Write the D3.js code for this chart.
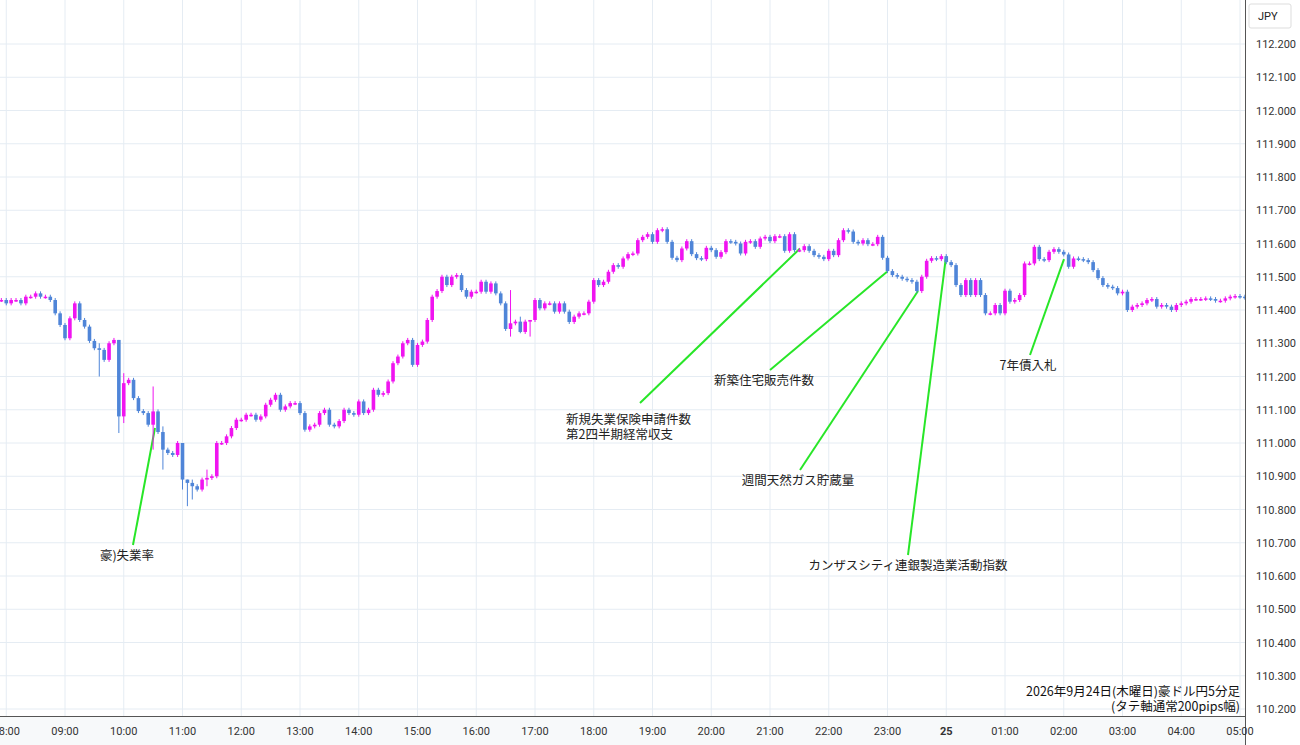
<!DOCTYPE html>
<html><head><meta charset="utf-8">
<script src="https://cdn.jsdelivr.net/npm/d3@7"></script>
<style>body{margin:0;background:#fff;font-family:"Noto Sans CJK JP","Noto Sans",sans-serif}</style>
</head><body><div id="chart"></div>
<script>
// 5分足の終値 (07:55 から)
const closes = [
  111.43,111.42,111.43,111.43,111.42,111.44,111.44,111.45,111.44,111.44,111.43,
  111.39,111.355,111.315,111.375,111.42,111.37,111.35,111.307,111.285,111.28,111.25,111.30,111.31,
  111.08,111.18,111.19,111.135,111.096,111.09,111.055,111.095,111.033,110.98,110.97,110.964,111.0,
  110.89,110.88,110.87,110.86,110.89,110.895,110.9,111.0,111.0,111.02,111.045,111.07,111.07,
  111.085,111.085,111.07,111.08,111.115,111.13,111.145,111.10,111.11,111.12,111.12,
  111.09,111.04,111.05,111.055,111.09,111.10,111.055,111.05,111.066,111.10,111.09,111.085,
  111.125,111.09,111.10,111.16,111.145,111.15,111.185,111.24,111.26,111.30,111.31,111.235,
  111.295,111.305,111.37,111.44,111.457,111.50,111.475,111.50,111.505,111.46,111.44,111.455,
  111.455,111.485,111.455,111.48,111.45,111.42,111.343,111.36,111.365,111.334,111.365,111.37,
  111.43,111.405,111.42,111.42,111.395,111.42,111.395,111.364,111.38,111.39,111.39,111.425,
  111.49,111.475,111.485,111.515,111.535,111.53,111.555,
  111.568,111.57,111.61,111.62,111.628,111.605,111.64,111.643,111.605,111.557,111.55,111.585,
  111.607,111.568,111.556,111.553,111.587,111.58,111.56,111.574,111.607,111.605,111.6,111.57,
  111.605,111.607,111.59,111.615,111.62,111.607,111.622,111.622,111.578,111.628,111.58,111.58,
  111.592,111.578,111.565,111.56,111.553,111.578,111.565,111.61,111.64,111.636,111.605,111.6,
  111.61,111.598,111.598,111.62,111.557,111.517,111.505,111.50,111.494,111.49,111.485,111.457,
  111.50,111.548,111.556,111.553,111.562,111.544,111.535,
  111.475,111.445,111.49,111.445,111.49,111.445,111.39,111.39,111.415,111.39,111.458,111.425,
  111.43,111.445,111.54,111.54,111.59,111.553,111.55,111.575,111.583,111.575,111.567,111.53,
  111.555,111.553,111.55,111.544,111.52,111.496,111.475,111.47,111.466,111.45,111.455,111.40,
  111.41,111.415,111.42,111.43,111.433,111.41,111.415,111.41,111.40,111.415,111.42,111.425,
  111.433,111.433,111.433,111.435,111.433,111.428,111.428,111.435,111.44,111.442,111.44,111.437,111.436
];
// 目立つヒゲ [index, 高値, 安値]
const wicks = [[20,111.30,111.20],[24,111.31,111.03],[25,111.21,111.06],[31,111.17,110.98],
  [33,111.05,110.92],[37,111.0,110.86],[38,110.89,110.81],[39,110.89,110.83],[42,110.92,110.87],
  [104,111.46,111.32],[106,111.38,111.33],[108,111.37,111.32]];
const yTicks = d3.range(0,21).map(i => +(110.2 + i*0.1).toFixed(1));
const hourLabels = ['08:00','09:00','10:00','11:00','12:00','13:00','14:00','15:00','16:00','17:00','18:00',
  '19:00','20:00','21:00','22:00','23:00','25','01:00','02:00','03:00','04:00','05:00'];
const notes = [
  {t:155, p:111.045, lx:133, ly:545, text:['豪)失業率'], tx:127, ty:560, anchor:'middle'},
  {t:800, p:111.585, lx:640, ly:403, text:['新規失業保険申請件数','第2四半期経常収支'], tx:566, ty:424, anchor:'start'},
  {t:887, p:111.515, lx:770, ly:370, text:['新築住宅販売件数'], tx:764, ty:385, anchor:'middle'},
  {t:918, p:111.457, lx:800, ly:470, text:['週間天然ガス貯蔵量'], tx:798, ty:485, anchor:'middle'},
  {t:946, p:111.56, lx:908, ly:555, text:['カンザスシティ連銀製造業活動指数'], tx:908, ty:570, anchor:'middle'},
  {t:1064, p:111.553, lx:1030, ly:355, text:['7年債入札'], tx:1028, ty:370, anchor:'middle'}
];

const W = 1300, H = 745, plotR = 1245, axisY = 716;
const t0 = new Date(2026, 8, 24, 7, 55);
const data = closes.map((c, i) => {
  const o = i === 0 ? c : closes[i-1];
  const w = wicks.find(d => d[0] === i);
  return {t: new Date(+t0 + i*300000), o, c,
    h: w ? w[1] : Math.max(o,c) + 0.006, l: w ? w[2] : Math.min(o,c) - 0.006};
});

const x = d3.scaleTime().domain([new Date(2026,8,24,9), new Date(2026,8,25,5)]).range([65, 1240]);
const y = d3.scaleLinear().domain([110.2, 112.2]).range([709, 44]);

const svg = d3.select('#chart').append('svg').attr('width', W).attr('height', H)
  .style('font-family','"Noto Sans CJK JP","Noto Sans",sans-serif');

const hours = hourLabels.map((s, i) => ({s, t: new Date(2026,8,24,8+i)}));
svg.append('g').selectAll('line').data(hours).join('line')
  .attr('x1', d => x(d.t)).attr('x2', d => x(d.t)).attr('y1', 0).attr('y2', axisY)
  .attr('stroke', '#e5ecf3');
svg.append('g').selectAll('line').data(yTicks).join('line')
  .attr('x1', 0).attr('x2', plotR).attr('y1', d => y(d)).attr('y2', d => y(d))
  .attr('stroke', '#e5ecf3');

// 注記線
svg.append('g').selectAll('line').data(notes).join('line')
  .attr('x1', d => d.t).attr('y1', d => y(d.p)).attr('x2', d => d.lx).attr('y2', d => d.ly)
  .attr('stroke', '#28e628').attr('stroke-width', 2);

const cg = svg.append('g').selectAll('g').data(data).join('g')
  .attr('transform', d => `translate(${x(d.t)},0)`);
const col = d => d.c >= d.o ? '#f014f0' : '#4f85d8';
cg.append('line').attr('y1', d => y(d.h)).attr('y2', d => y(d.l)).attr('stroke', col);
cg.append('rect').attr('x', -1.8).attr('width', 3.6)
  .attr('y', d => y(Math.max(d.o, d.c)))
  .attr('height', d => Math.max(1.5, Math.abs(y(d.o) - y(d.c))))
  .attr('fill', col);

svg.append('g').selectAll('text').data(notes).join('text')
  .attr('text-anchor', d => d.anchor).attr('font-size', 12.5).attr('fill', '#222')
  .each(function(d) {
    d3.select(this).selectAll('tspan').data(d.text).join('tspan')
      .attr('x', d.tx).attr('y', (s, i) => d.ty + i*15).text(s => s);
  });

// 右軸
svg.append('rect').attr('x', plotR).attr('y', 0).attr('width', W-plotR).attr('height', H).attr('fill', '#fff');
svg.append('line').attr('x1', plotR+0.5).attr('x2', plotR+0.5).attr('y1', 0).attr('y2', H).attr('stroke', '#555');
svg.append('g').selectAll('text').data(yTicks).join('text')
  .attr('x', 1256).attr('y', d => y(d) + 4).attr('font-size', 11).attr('fill', '#333')
  .style('font-family', 'Roboto, sans-serif').text(d => d.toFixed(3));
svg.append('rect').attr('x', 1249).attr('y', 4).attr('width', 42).attr('height', 24)
  .attr('fill', '#fff').attr('stroke', '#ddd').attr('rx', 2);
svg.append('text').attr('x', 1258).attr('y', 20).attr('font-size', 11).attr('fill', '#222')
  .style('font-family', 'Roboto, sans-serif').text('JPY');

// 下軸
svg.append('rect').attr('x', 0).attr('y', axisY).attr('width', plotR).attr('height', H-axisY).attr('fill', '#f7f9fa');
svg.append('line').attr('x1', 0).attr('x2', plotR).attr('y1', axisY+0.5).attr('y2', axisY+0.5).attr('stroke', '#555');
svg.append('g').selectAll('text').data(hours).join('text')
  .attr('x', d => x(d.t)).attr('y', 735).attr('text-anchor', 'middle').attr('font-size', 11)
  .attr('fill', '#333').attr('font-weight', d => d.s === '25' ? 'bold' : null)
  .style('font-family', 'Roboto, sans-serif').text(d => d.s);

svg.append('text').attr('x', 1240).attr('y', 696).attr('text-anchor', 'end').attr('font-size', 12.5)
  .attr('fill', '#111').text('2026年9月24日(木曜日)豪ドル円5分足');
svg.append('text').attr('x', 1240).attr('y', 711).attr('text-anchor', 'end').attr('font-size', 12.5)
  .attr('fill', '#111').text('(タテ軸通常200pips幅)');
</script></body></html>
